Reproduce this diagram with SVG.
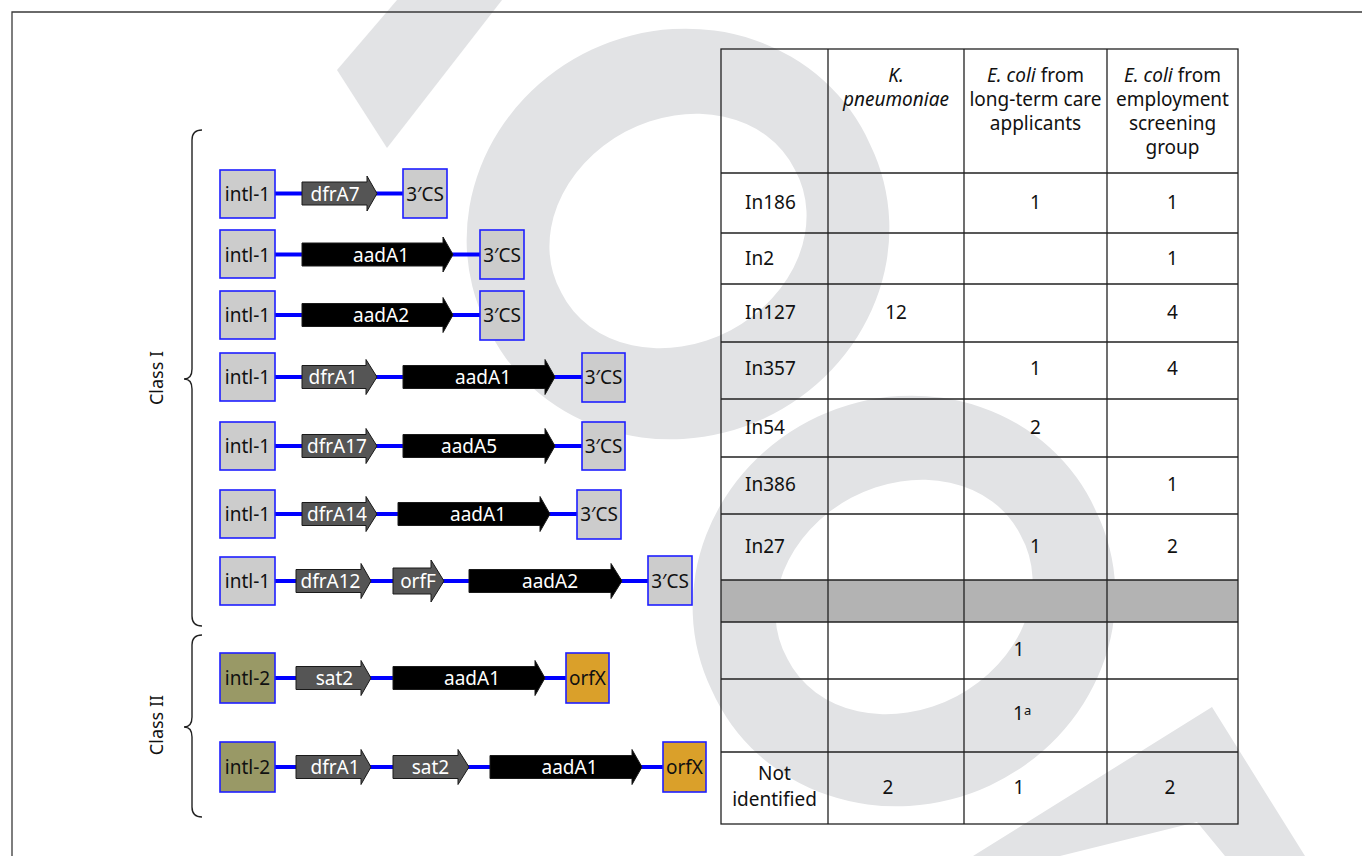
<svg xmlns="http://www.w3.org/2000/svg" width="1362" height="856" viewBox="0 0 1362 856">
<style>
  text { font-family: "Noto Sans", "Open Sans", "Liberation Sans", sans-serif; font-size: 19px; fill: #111; }
  .wm { fill: #e2e3e5; fill-rule: evenodd; }
  .frame { stroke: #3a3a3a; stroke-width: 1.3; fill: none; }
  .b1 { fill: #cccccc; stroke: #1f1fff; stroke-width: 1.6; }
  .b2 { fill: #999966; stroke: #1f1fff; stroke-width: 1.6; }
  .bx { fill: #daa02a; stroke: #1f1fff; stroke-width: 1.6; }
  .ga { fill: #555555; stroke: #1a1a1a; stroke-width: 1; }
  .ka { fill: #000000; stroke: #1a1a1a; stroke-width: 1; }
  .lbl { text-anchor: middle; }
  .wt { fill: #ffffff; text-anchor: middle; }
  .conn line { stroke: #0000ff; stroke-width: 4; }
  .brace { fill: none; stroke: #222; stroke-width: 1.4; }
  .grid { stroke: #222; stroke-width: 1.3; fill: none; }
  .c { text-anchor: middle; }
  .i { font-style: italic; }
</style>

<rect x="0" y="0" width="1362" height="856" fill="#ffffff"/>

<g id="watermark">
  <path class="wm" d="M397,0 L502,0 L387,148 L337,70 Z"/>
  <path class="wm" d="M485.9,323.6 A212,200 -25 1 0 870.1,144.4 A212,200 -25 1 0 485.9,323.6 Z M561.5,293 A132,110 -28 1 0 794.5,169 A132,110 -28 1 0 561.5,293 Z"/>
  <path class="wm" d="M711.9,690.6 A212,200 -25 1 0 1096.1,511.4 A212,200 -25 1 0 711.9,690.6 Z M787.5,659 A132,110 -28 1 0 1020.5,535 A132,110 -28 1 0 787.5,659 Z"/>
  <path class="wm" d="M1212,707 L1305,856 L1225,856 L1197,822 L1060,856 L973,856 Z"/>
</g>

<g id="frame">
  <path class="frame" d="M12,856 L12,12 L1362,12"/>
</g>

<g id="braces">
  <path class="brace" d="M202,130 Q192,130 192,140 L192,369 Q192,379 184,379 Q192,379 192,389 L192,616 Q192,626 202,626"/>
  <path class="brace" d="M202,635 Q192,635 192,645 L192,717 Q192,727 184,727 Q192,727 192,737 L192,807 Q192,817 202,817"/>
  <text class="c" style="font-size:18px" transform="translate(163,378) rotate(-90)">Class I</text>
  <text class="c" style="font-size:18px" transform="translate(163,725) rotate(-90)">Class II</text>
</g>

<g id="connectors" class="conn">
  <line x1="275" y1="193.5" x2="403" y2="193.5"/>
  <line x1="275" y1="254.5" x2="480" y2="254.5"/>
  <line x1="275" y1="315" x2="480" y2="315"/>
  <line x1="275" y1="377" x2="582" y2="377"/>
  <line x1="275" y1="446" x2="582" y2="446"/>
  <line x1="275" y1="514" x2="577" y2="514"/>
  <line x1="275" y1="581" x2="648" y2="581"/>
  <line x1="275" y1="678" x2="566" y2="678"/>
  <line x1="275" y1="767" x2="663" y2="767"/>
</g>

<g id="row1">
  <rect class="b1" x="220" y="170" width="55" height="48"/><text class="lbl" x="247.5" y="200.5">intl-1</text>
  <path class="ga" d="M302,182 L367,182 L367,176 L377,193.5 L367,211 L367,205 L302,205 Z"/><text class="wt" x="335" y="200.5">dfrA7</text>
  <rect class="b1" x="403" y="169" width="44" height="49"/><text class="lbl" x="425" y="200.5">3′CS</text>
</g>
<g id="row2">
  <rect class="b1" x="220" y="230" width="55" height="48"/><text class="lbl" x="247.5" y="261.5">intl-1</text>
  <path class="ka" d="M302,243 L443,243 L443,237 L453,254.5 L443,272 L443,266 L302,266 Z"/><text class="wt" x="381" y="261.5">aadA1</text>
  <rect class="b1" x="480" y="230" width="44" height="49"/><text class="lbl" x="502" y="261.5">3′CS</text>
</g>
<g id="row3">
  <rect class="b1" x="220" y="291" width="55" height="48"/><text class="lbl" x="247.5" y="322">intl-1</text>
  <path class="ka" d="M302,303.5 L443,303.5 L443,297.5 L453,315 L443,332.5 L443,326.5 L302,326.5 Z"/><text class="wt" x="381" y="322">aadA2</text>
  <rect class="b1" x="480" y="291" width="44" height="49"/><text class="lbl" x="502" y="322">3′CS</text>
</g>
<g id="row4">
  <rect class="b1" x="220" y="353" width="55" height="48"/><text class="lbl" x="247.5" y="384">intl-1</text>
  <path class="ga" d="M302,365.5 L366,365.5 L366,359.5 L377,377 L366,394.5 L366,388.5 L302,388.5 Z"/><text class="wt" x="333" y="384">dfrA1</text>
  <path class="ka" d="M403,365.5 L545,365.5 L545,359.5 L555,377 L545,394.5 L545,388.5 L403,388.5 Z"/><text class="wt" x="483" y="384">aadA1</text>
  <rect class="b1" x="582" y="353" width="43" height="49"/><text class="lbl" x="603.5" y="384">3′CS</text>
</g>
<g id="row5">
  <rect class="b1" x="220" y="422" width="55" height="48"/><text class="lbl" x="247.5" y="453">intl-1</text>
  <path class="ga" d="M302,434.5 L366,434.5 L366,428.5 L377,446 L366,463.5 L366,457.5 L302,457.5 Z"/><text class="wt" x="337" y="453">dfrA17</text>
  <path class="ka" d="M403,434.5 L545,434.5 L545,428.5 L555,446 L545,463.5 L545,457.5 L403,457.5 Z"/><text class="wt" x="469" y="453">aadA5</text>
  <rect class="b1" x="582" y="422" width="43" height="48"/><text class="lbl" x="603.5" y="453">3′CS</text>
</g>
<g id="row6">
  <rect class="b1" x="220" y="490" width="55" height="48"/><text class="lbl" x="247.5" y="521">intl-1</text>
  <path class="ga" d="M302,502.5 L366,502.5 L366,496.5 L377,514 L366,531.5 L366,525.5 L302,525.5 Z"/><text class="wt" x="337" y="521">dfrA14</text>
  <path class="ka" d="M398,502.5 L540,502.5 L540,496.5 L550,514 L540,531.5 L540,525.5 L398,525.5 Z"/><text class="wt" x="478" y="521">aadA1</text>
  <rect class="b1" x="577" y="490" width="44" height="49"/><text class="lbl" x="599" y="521">3′CS</text>
</g>
<g id="row7">
  <rect class="b1" x="220" y="557" width="55" height="48"/><text class="lbl" x="247.5" y="588">intl-1</text>
  <path class="ga" d="M296,569.5 L361,569.5 L361,563.5 L371,581 L361,598.5 L361,592.5 L296,592.5 Z"/><text class="wt" x="330.5" y="588">dfrA12</text>
  <path class="ga" d="M393,568 L431,568 L431,560 L444,581 L431,602 L431,594 L393,594 Z"/><text class="wt" x="418" y="588">orfF</text>
  <path class="ka" d="M469,569.5 L611,569.5 L611,563.5 L622,581 L611,598.5 L611,592.5 L469,592.5 Z"/><text class="wt" x="550" y="588">aadA2</text>
  <rect class="b1" x="648" y="556" width="44" height="49"/><text class="lbl" x="670" y="588">3′CS</text>
</g>
<g id="row8">
  <rect class="b2" x="220" y="653" width="55" height="50"/><text class="lbl" x="247.5" y="685">intl-2</text>
  <path class="ga" d="M296,666.5 L361,666.5 L361,660.5 L371,678 L361,695.5 L361,689.5 L296,689.5 Z"/><text class="wt" x="334.5" y="685">sat2</text>
  <path class="ka" d="M393,666.5 L535,666.5 L535,660.5 L545,678 L535,695.5 L535,689.5 L393,689.5 Z"/><text class="wt" x="472" y="685">aadA1</text>
  <rect class="bx" x="566" y="653" width="43" height="50"/><text class="lbl" x="587.5" y="685">orfX</text>
</g>
<g id="row9">
  <rect class="b2" x="220" y="742" width="55" height="50"/><text class="lbl" x="247.5" y="774">intl-2</text>
  <path class="ga" d="M296,755.5 L361,755.5 L361,749.5 L371,767 L361,784.5 L361,778.5 L296,778.5 Z"/><text class="wt" x="335" y="774">dfrA1</text>
  <path class="ga" d="M393,755.5 L458,755.5 L458,749.5 L469,767 L458,784.5 L458,778.5 L393,778.5 Z"/><text class="wt" x="430.5" y="774">sat2</text>
  <path class="ka" d="M490,755.5 L632,755.5 L632,749.5 L642,767 L632,784.5 L632,778.5 L490,778.5 Z"/><text class="wt" x="569.5" y="774">aadA1</text>
  <rect class="bx" x="663" y="742" width="43" height="50"/><text class="lbl" x="684.5" y="774">orfX</text>
</g>

<g id="table">
  <rect x="721" y="580" width="517" height="42" fill="#b3b3b3"/>
  <rect class="grid" x="721" y="49" width="517" height="775"/>
  <path class="grid" d="M828,49 V824 M964,49 V824 M1107,49 V824 M721,173 H1238 M721,233 H1238 M721,284 H1238 M721,342 H1238 M721,399 H1238 M721,457 H1238 M721,514 H1238 M721,580 H1238 M721,622 H1238 M721,679 H1238 M721,752 H1238"/>
  <g id="header">
    <text class="c i" x="896" y="82">K.</text>
    <text class="c i" x="896" y="106">pneumoniae</text>
    <text class="c" x="1035.5" y="82"><tspan class="i">E. coli</tspan> from</text>
    <text class="c" x="1035.5" y="106">long-term care</text>
    <text class="c" x="1035.5" y="130">applicants</text>
    <text class="c" x="1172.5" y="82"><tspan class="i">E. coli</tspan> from</text>
    <text class="c" x="1172.5" y="106">employment</text>
    <text class="c" x="1172.5" y="130">screening</text>
    <text class="c" x="1172.5" y="154">group</text>
  </g>
  <g id="rows">
    <text x="745" y="209">In186</text>
    <text class="c" x="1035.5" y="209">1</text>
    <text class="c" x="1172.5" y="209">1</text>
    <text x="745" y="265">In2</text>
    <text class="c" x="1172.5" y="265">1</text>
    <text x="745" y="319">In127</text>
    <text class="c" x="896" y="319">12</text>
    <text class="c" x="1172.5" y="319">4</text>
    <text x="745" y="375">In357</text>
    <text class="c" x="1035.5" y="375">1</text>
    <text class="c" x="1172.5" y="375">4</text>
    <text x="745" y="434">In54</text>
    <text class="c" x="1035.5" y="434">2</text>
    <text x="745" y="491">In386</text>
    <text class="c" x="1172.5" y="491">1</text>
    <text x="745" y="553">In27</text>
    <text class="c" x="1035.5" y="553">1</text>
    <text class="c" x="1172.5" y="553">2</text>
    <text class="c" x="1019" y="656">1</text>
    <text x="1013" y="720">1<tspan font-size="13" dy="-5">a</tspan></text>
    <text class="c" x="774.5" y="780">Not</text>
    <text class="c" x="774.5" y="806">identified</text>
    <text class="c" x="888" y="794">2</text>
    <text class="c" x="1019" y="794">1</text>
    <text class="c" x="1170" y="794">2</text>
  </g>
</g>
</svg>
